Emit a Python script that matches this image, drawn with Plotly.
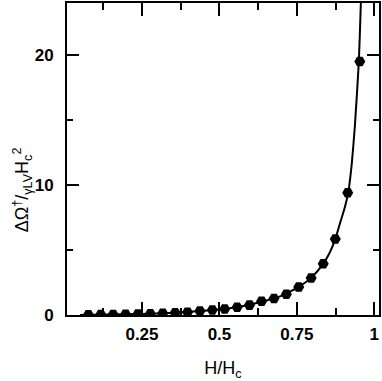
import plotly.graph_objects as go

# measured points (H/Hc, dOmega)
h_ratio = [0.077, 0.117, 0.157, 0.197, 0.237, 0.277, 0.317, 0.357, 0.397, 0.437,
           0.477, 0.517, 0.557, 0.597, 0.636, 0.676, 0.716, 0.756, 0.796, 0.835,
           0.874, 0.914, 0.953]
d_omega = [0.02, 0.03, 0.04, 0.06, 0.08, 0.10, 0.13, 0.17, 0.22, 0.30,
           0.38, 0.46, 0.59, 0.76, 1.05, 1.27, 1.60, 2.15, 2.85, 3.95,
           5.85, 9.40, 19.5]

# theory curve
curve_x = [0.05, 0.30, 0.45, 0.55, 0.62, 0.70, 0.76, 0.80, 0.835, 0.857,
           0.874, 0.891, 0.905, 0.916, 0.927, 0.937, 0.950, 0.9565, 0.959]
curve_y = [0.0, 0.12, 0.33, 0.58, 0.92, 1.47, 2.22, 2.95, 3.95, 4.85,
           5.85, 7.2, 8.3, 9.45, 11.6, 14.5, 19.5, 24.05, 26.0]

x_ticks = [0.25, 0.5, 0.75, 1]
y_ticks = [0, 10, 20]

fig = go.Figure()
fig.add_trace(go.Scatter(x=curve_x, y=curve_y, mode='lines',
                         line=dict(color='black', width=2, shape='spline', smoothing=0.5),
                         showlegend=False))
fig.add_trace(go.Scatter(x=h_ratio, y=d_omega, mode='markers',
                         marker=dict(symbol='hexagon2', size=11, color='black'),
                         showlegend=False))

axis_font = dict(family='Liberation Sans, Arial', size=17, color='black', weight='bold')
fig.update_layout(
    width=382, height=381,
    margin=dict(l=67, r=3, t=1, b=66),
    plot_bgcolor='white', paper_bgcolor='white',
    xaxis=dict(range=[0.008, 1.015], tickvals=x_ticks, ticktext=['0.25', '0.5', '0.75', '1'],
               ticks='inside', ticklen=13, tickwidth=2, tickcolor='black',
               showline=True, linewidth=2, linecolor='black', mirror='ticks',
               showgrid=False, zeroline=False, tickfont=axis_font, ticklabelstandoff=3,
               minor=dict(dtick=0.125, tick0=0, ticks='inside', ticklen=7, tickwidth=2,
                          tickcolor='black', showgrid=False),
               title=dict(text='H/H<sub>c</sub>', standoff=20,
                          font=dict(family='Liberation Sans, Arial', size=18, color='black'))),
    yaxis=dict(range=[0, 24], tickvals=y_ticks,
               ticks='inside', ticklen=12, tickwidth=2, tickcolor='black',
               showline=True, linewidth=2, linecolor='black', mirror='ticks',
               showgrid=False, zeroline=False, tickfont=axis_font, ticklabelstandoff=8,
               minor=dict(dtick=5, tick0=0, ticks='inside', ticklen=6, tickwidth=2,
                          tickcolor='black', showgrid=False)),
)
# y title sits below the middle of the axis in the original, so place it by hand
fig.add_annotation(text='ΔΩ<sup>†</sup>/<sub>γLV</sub>H<sub>c</sub><sup>2</sup>',
                   xref='paper', yref='paper', x=0, y=0.40, xshift=-45,
                   xanchor='center', yanchor='middle', textangle=-90, showarrow=False,
                   font=dict(family='Liberation Sans, Arial', size=18, color='black'))
# page body has a default 8px margin; drop it so the figure sits at the window corner
fig.write_html("out.html", config={'displayModeBar': False},
               post_script="document.body.style.margin='0';")
